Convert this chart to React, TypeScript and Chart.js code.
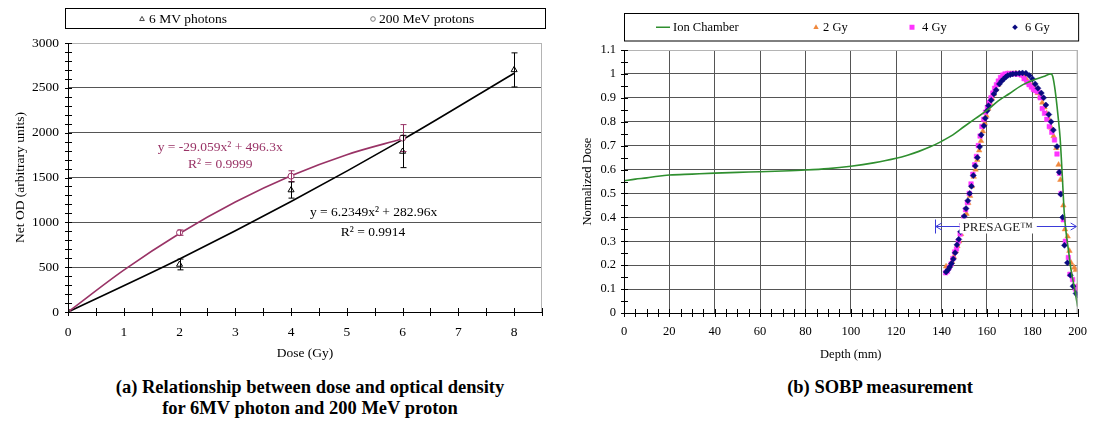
import React, { useEffect, useRef } from 'react';
import { Chart, registerables } from 'chart.js';

Chart.register(...registerables);

const FONT = '"Liberation Serif", "Times New Roman", serif';
const MAROON = '#993366';
const GREEN = '#2f8f2f';
const ORANGE = '#f0883c';
const MAGENTA = '#ff33ff';
const NAVY = '#0a0a80';
const GRID = '#555555';
const BORDER = '#b4b4b4';

// ---------- (a) dose vs optical density ----------
const photonDose = [0, 2, 4, 6, 8];
const photonOD = [0, 530, 1360, 1790, 2700];
const photonErr = [0, 60, 90, 180, 190];
const protonDose = [0, 2, 4, 6];
const protonOD = [0, 885, 1515, 1940];
const protonErr = [0, 30, 60, 150];
const photonFitDose = [0, 2, 4, 6, 8];
const photonFitOD = [0, 591, 1232, 1922, 2663];
const protonFitDose = [0, 1, 2, 3, 4, 5, 6];
const protonFitOD = [0, 467, 876, 1227, 1520, 1755, 1932];
const leftLabels = [
  { text: 'y = -29.059x² + 496.3x', x: 2.73, y: 1833, color: MAROON },
  { text: 'R² = 0.9999', x: 2.73, y: 1640, color: MAROON },
  { text: 'y = 6.2349x² + 282.96x', x: 5.48, y: 1107, color: '#000' },
  { text: 'R² = 0.9914', x: 5.47, y: 887, color: '#000' },
];

// ---------- (b) SOBP ----------
const icDepth = [0, 5, 10, 15, 20, 30, 40, 50, 60, 70, 80, 90, 100, 110, 120, 125, 130, 135, 140, 145, 150, 155, 160, 165, 170, 175, 180, 185, 188.3, 189, 189.8, 190.5, 191.3, 192.3, 193.2, 194.1, 195, 196, 197.1, 198.5, 200];
const icDose = [0.553, 0.560, 0.565, 0.572, 0.577, 0.581, 0.585, 0.588, 0.591, 0.594, 0.598, 0.604, 0.614, 0.628, 0.647, 0.660, 0.676, 0.695, 0.718, 0.745, 0.780, 0.814, 0.847, 0.887, 0.918, 0.950, 0.972, 0.989, 1.000, 0.990, 0.950, 0.900, 0.830, 0.730, 0.580, 0.420, 0.330, 0.260, 0.180, 0.110, 0.027];

const gy2Depth = [142.0, 142.9, 143.8, 144.6, 145.4, 146.2, 147.0, 147.8, 148.6, 149.4, 150.2, 151.0, 151.8, 152.6, 153.4, 154.2, 155.0, 155.8, 156.6, 157.4, 158.2, 159.0, 159.8, 160.6, 161.4, 162.2, 163.0, 164.0, 165.0, 166.0, 167.0, 168.0, 169.2, 170.4, 171.6, 172.8, 174.0, 175.2, 176.4, 177.6, 178.8, 180.0, 181.2, 182.4, 183.4, 184.4, 185.4, 186.4, 187.4, 188.4, 189.4, 190.6, 191.6, 192.4, 193.7, 194.4, 195.6, 196.4, 197.1, 198.5, 199.2, 199.7, 200.0];
const gy2Dose = [0.195, 0.190, 0.200, 0.215, 0.235, 0.258, 0.280, 0.300, 0.330, 0.360, 0.385, 0.415, 0.460, 0.490, 0.530, 0.570, 0.600, 0.640, 0.680, 0.720, 0.760, 0.795, 0.825, 0.855, 0.878, 0.898, 0.915, 0.935, 0.955, 0.972, 0.985, 0.995, 1.000, 1.000, 1.000, 1.002, 1.000, 0.998, 0.990, 0.975, 0.960, 0.950, 0.935, 0.920, 0.905, 0.880, 0.860, 0.835, 0.810, 0.775, 0.740, 0.690, 0.620, 0.557, 0.450, 0.350, 0.320, 0.260, 0.210, 0.190, 0.180, 0.110, 0.100];

const gy4Depth = [141.8, 142.6, 143.4, 144.2, 145.0, 145.8, 146.6, 147.4, 148.2, 149.0, 149.8, 150.6, 151.4, 152.2, 153.0, 153.8, 154.6, 155.4, 156.2, 157.0, 157.8, 158.6, 159.4, 160.2, 161.0, 161.8, 162.6, 163.4, 164.2, 165.0, 166.0, 167.0, 168.0, 169.2, 170.4, 171.6, 172.8, 174.0, 175.2, 176.4, 177.6, 178.6, 179.6, 180.5, 181.5, 182.5, 183.5, 184.4, 185.4, 186.4, 187.5, 188.6, 189.8, 190.9, 192.0, 192.7, 193.7, 194.6, 195.9, 196.6, 197.8, 199.0, 199.7];
const gy4Dose = [0.168, 0.175, 0.190, 0.205, 0.228, 0.255, 0.268, 0.300, 0.330, 0.365, 0.400, 0.432, 0.462, 0.500, 0.540, 0.580, 0.620, 0.655, 0.700, 0.740, 0.780, 0.810, 0.840, 0.860, 0.880, 0.900, 0.920, 0.940, 0.955, 0.970, 0.985, 0.995, 1.000, 1.002, 1.000, 1.002, 1.000, 1.000, 0.995, 0.980, 0.965, 0.955, 0.945, 0.935, 0.930, 0.925, 0.900, 0.855, 0.835, 0.810, 0.780, 0.756, 0.724, 0.665, 0.585, 0.500, 0.390, 0.300, 0.232, 0.162, 0.140, 0.100, 0.110];

const gy6Depth = [142.0, 142.8, 143.6, 144.4, 145.2, 146.0, 146.8, 147.6, 148.4, 149.2, 150.0, 150.8, 151.6, 152.4, 153.2, 154.0, 154.9, 155.8, 156.8, 157.5, 158.7, 159.3, 160.1, 160.7, 161.9, 163.1, 164.1, 165.5, 166.5, 167.4, 168.3, 169.2, 170.3, 171.4, 172.8, 174.3, 175.7, 177.2, 178.7, 180.1, 181.3, 182.5, 184.0, 185.0, 186.0, 187.3, 188.3, 189.3, 190.9, 191.9, 192.6, 193.4, 194.2, 195.5, 196.8, 198.0, 199.3, 200.0];
const gy6Dose = [0.172, 0.180, 0.192, 0.207, 0.226, 0.252, 0.285, 0.308, 0.340, 0.372, 0.405, 0.437, 0.470, 0.500, 0.530, 0.575, 0.615, 0.650, 0.695, 0.745, 0.783, 0.815, 0.846, 0.867, 0.890, 0.916, 0.933, 0.958, 0.970, 0.979, 0.987, 0.993, 0.997, 1.000, 1.001, 1.003, 1.004, 1.003, 0.993, 0.979, 0.958, 0.940, 0.920, 0.900, 0.870, 0.830, 0.800, 0.765, 0.696, 0.589, 0.497, 0.400, 0.283, 0.210, 0.158, 0.112, 0.082, 0.075];

const presage = { text: 'PRESAGE™', from: 137, to: 200, leftEnd: 148, rightStart: 182, textAt: 164.8, level: 0.364 };

const pts = (xs: number[], ys: number[]) => xs.map((x, i) => ({ x, y: ys[i] }));

function marker(ctx: CanvasRenderingContext2D, style: string, x: number, y: number, r: number, fill: string, stroke: string) {
  ctx.save();
  ctx.beginPath();
  if (style === 'triangle') {
    ctx.moveTo(x, y - r);
    ctx.lineTo(x + r * 0.9, y + r * 0.6);
    ctx.lineTo(x - r * 0.9, y + r * 0.6);
    ctx.closePath();
  } else if (style === 'circle') {
    ctx.arc(x, y, r, 0, Math.PI * 2);
  } else if (style === 'rect') {
    ctx.rect(x - r, y - r, r * 2, r * 2);
  } else if (style === 'rectRot') {
    ctx.moveTo(x, y - r);
    ctx.lineTo(x + r, y);
    ctx.lineTo(x, y + r);
    ctx.lineTo(x - r, y);
    ctx.closePath();
  }
  if (fill) { ctx.fillStyle = fill; ctx.fill(); }
  if (stroke) { ctx.strokeStyle = stroke; ctx.lineWidth = 1; ctx.stroke(); }
  ctx.restore();
}

function frame(chart: any, xMinor: number, yMinor: number) {
  const { ctx, chartArea: a, scales } = chart;
  const x = scales.x, y = scales.y;
  ctx.save();
  ctx.strokeStyle = BORDER;
  ctx.lineWidth = 1;
  ctx.beginPath();
  ctx.moveTo(a.left, a.top + 0.5);
  ctx.lineTo(a.right - 0.5, a.top + 0.5);
  ctx.lineTo(a.right - 0.5, a.bottom);
  ctx.stroke();
  ctx.strokeStyle = '#000';
  ctx.beginPath();
  ctx.moveTo(a.left + 0.5, a.top);
  ctx.lineTo(a.left + 0.5, a.bottom + 0.5);
  ctx.lineTo(a.right, a.bottom + 0.5);
  for (let v = x.min; v <= x.max + 1e-9; v += xMinor) {
    const px = Math.round(x.getPixelForValue(v)) + 0.5;
    ctx.moveTo(px, a.bottom - 4);
    ctx.lineTo(px, a.bottom + 4);
  }
  for (let v = y.min; v <= y.max + 1e-9; v += yMinor) {
    const py = Math.round(y.getPixelForValue(v)) + 0.5;
    ctx.moveTo(a.left - 3, py);
    ctx.lineTo(a.left + 4, py);
  }
  ctx.stroke();
  ctx.restore();
}

const leftPlugin = {
  id: 'leftDecor',
  afterDatasetsDraw(chart: any) {
    const { ctx, scales: { x, y } } = chart;
    const bars = (xs: number[], ys: number[], es: number[], color: string) => {
      ctx.save();
      ctx.strokeStyle = color;
      ctx.lineWidth = 1;
      ctx.beginPath();
      xs.forEach((xv, i) => {
        if (!es[i]) return;
        const px = Math.round(x.getPixelForValue(xv)) + 0.5;
        const top = y.getPixelForValue(ys[i] + es[i]);
        const bot = y.getPixelForValue(ys[i] - es[i]);
        ctx.moveTo(px, top); ctx.lineTo(px, bot);
        ctx.moveTo(px - 3, top); ctx.lineTo(px + 3, top);
        ctx.moveTo(px - 3, bot); ctx.lineTo(px + 3, bot);
      });
      ctx.stroke();
      ctx.restore();
    };
    bars(protonDose, protonOD, protonErr, MAROON);
    bars(photonDose, photonOD, photonErr, '#000');
  },
  afterDraw(chart: any) {
    const { ctx, chartArea: a, scales: { x, y } } = chart;
    frame(chart, 0.5, 100);
    // legend
    ctx.save();
    const bl = a.left - 3, br = a.right + 3, bt = 8.5, bb = 28.5;
    ctx.strokeStyle = '#000';
    ctx.lineWidth = 1;
    ctx.strokeRect(bl + 0.5, bt, br - bl, bb - bt);
    const ly = (bt + bb) / 2 + 0.5;
    ctx.font = `13.5px ${FONT}`;
    ctx.fillStyle = '#000';
    ctx.textBaseline = 'middle';
    marker(ctx, 'triangle', bl + 77, ly, 2.6, '#fff', '#444');
    ctx.fillText('6 MV photons', bl + 84, ly);
    marker(ctx, 'circle', bl + 308, ly, 2.3, '#fff', '#777');
    ctx.fillText('200 MeV protons', bl + 314, ly);
    // trendline labels
    ctx.textAlign = 'center';
    leftLabels.forEach((l) => {
      ctx.fillStyle = l.color;
      ctx.fillText(l.text, x.getPixelForValue(l.x), y.getPixelForValue(l.y));
    });
    ctx.restore();
  },
};

const rightPlugin = {
  id: 'rightDecor',
  afterDatasetsDraw(chart: any) {
    const { ctx, scales: { x, y } } = chart;
    ctx.save();
    const py = Math.round(y.getPixelForValue(presage.level)) + 0.5;
    ctx.font = `13px ${FONT}`;
    const tw = ctx.measureText(presage.text).width;
    const tx = x.getPixelForValue(presage.textAt);
    ctx.fillStyle = '#fff';
    ctx.fillRect(tx - tw / 2 - 3, py - 8, tw + 6, 15);
    ctx.fillStyle = '#222';
    ctx.textAlign = 'center';
    ctx.textBaseline = 'middle';
    ctx.fillText(presage.text, tx, py + 1);
    const x0 = x.getPixelForValue(presage.from);
    const x1 = x.getPixelForValue(presage.leftEnd);
    const x2 = x.getPixelForValue(presage.rightStart);
    const x3 = x.getPixelForValue(presage.to);
    ctx.strokeStyle = '#3a3ad8';
    ctx.lineWidth = 1;
    ctx.beginPath();
    ctx.moveTo(Math.round(x0) + 0.5, py - 7); ctx.lineTo(Math.round(x0) + 0.5, py + 7);
    ctx.moveTo(x0 + 1, py); ctx.lineTo(x1, py);
    ctx.moveTo(x0 + 7, py - 3.5); ctx.lineTo(x0 + 1, py); ctx.lineTo(x0 + 7, py + 3.5);
    ctx.moveTo(x2, py); ctx.lineTo(x3 - 1, py);
    ctx.moveTo(x3 - 7, py - 3.5); ctx.lineTo(x3 - 1, py); ctx.lineTo(x3 - 7, py + 3.5);
    ctx.stroke();
    ctx.restore();
  },
  afterDraw(chart: any) {
    const { ctx, chartArea: a } = chart;
    frame(chart, 5, 0.05);
    ctx.save();
    const bl = a.left, br = a.right + 0.5, bt = 13.5, bb = 41;
    ctx.strokeStyle = '#000';
    ctx.lineWidth = 1;
    ctx.strokeRect(bl + 0.5, bt, br - bl, bb - bt);
    const ly = (bt + bb) / 2;
    ctx.font = `12.5px ${FONT}`;
    ctx.fillStyle = '#000';
    ctx.textBaseline = 'middle';
    ctx.strokeStyle = GREEN;
    ctx.lineWidth = 1.5;
    ctx.beginPath();
    ctx.moveTo(bl + 32, ly); ctx.lineTo(bl + 46, ly);
    ctx.stroke();
    ctx.fillText('Ion Chamber', bl + 49, ly);
    marker(ctx, 'triangle', bl + 192, ly, 3, ORANGE, '');
    ctx.fillText('2 Gy', bl + 199, ly);
    marker(ctx, 'rect', bl + 288, ly, 2.5, MAGENTA, '');
    ctx.fillText('4 Gy', bl + 298, ly);
    marker(ctx, 'rectRot', bl + 391, ly, 2.8, NAVY, '');
    ctx.fillText('6 Gy', bl + 401, ly);
    ctx.restore();
  },
};

const tickFont = (size: number) => ({ family: FONT, size });

function leftConfig(): any {
  return {
    type: 'scatter',
    data: {
      datasets: [
        { data: pts(photonDose, photonOD), pointStyle: 'triangle', pointRadius: 3.5, backgroundColor: '#fff', borderColor: '#000', borderWidth: 1, order: 0 },
        { data: pts(protonDose, protonOD), pointStyle: 'circle', pointRadius: 3, backgroundColor: '#fff', borderColor: MAROON, borderWidth: 1, order: 1 },
        { data: pts(photonFitDose, photonFitOD), showLine: true, pointRadius: 0, borderColor: '#000', borderWidth: 1.6, cubicInterpolationMode: 'monotone', order: 3 },
        { data: pts(protonFitDose, protonFitOD), showLine: true, pointRadius: 0, borderColor: MAROON, borderWidth: 1.6, cubicInterpolationMode: 'monotone', order: 2 },
      ],
    },
    options: {
      animation: false,
      responsive: false,
      maintainAspectRatio: false,
      layout: { padding: { top: 43, right: 18, bottom: 0, left: 0 } },
      plugins: { legend: { display: false }, tooltip: { enabled: false } },
      scales: {
        x: {
          type: 'linear', min: 0, max: 8.5,
          afterFit: (s: any) => { s.height = 58; },
          ticks: { stepSize: 1, includeBounds: false, color: '#000', font: tickFont(13.5), padding: 12, maxRotation: 0 },
          grid: { display: false, drawTicks: false },
          border: { display: false },
          title: { display: true, text: 'Dose (Gy)', color: '#000', font: tickFont(13.5), padding: { top: 0, bottom: 8 } },
        },
        y: {
          type: 'linear', min: 0, max: 3000,
          afterFit: (s: any) => { s.width = 68; },
          ticks: { stepSize: 500, color: '#000', font: tickFont(13.5), padding: 9, callback: (v: number) => String(v) },
          grid: { color: (c: any) => (c.tick && c.tick.value === 3000 ? BORDER : GRID), drawTicks: false },
          border: { display: false },
          title: { display: true, text: 'Net OD (arbitrary units)', color: '#000', font: tickFont(13.5), padding: { top: 12, bottom: 0 } },
        },
      },
    },
    plugins: [leftPlugin],
  };
}

function rightConfig(): any {
  return {
    type: 'scatter',
    data: {
      datasets: [
        { data: pts(icDepth, icDose), showLine: true, pointRadius: 0, borderColor: GREEN, borderWidth: 1.6, cubicInterpolationMode: 'monotone', order: 0 },
        { data: pts(gy6Depth, gy6Dose), pointStyle: 'rectRot', pointRadius: 3, backgroundColor: NAVY, borderColor: NAVY, borderWidth: 0.5, order: 1 },
        { data: pts(gy4Depth, gy4Dose), pointStyle: 'rect', pointRadius: 3.2, backgroundColor: MAGENTA, borderColor: MAGENTA, borderWidth: 0.5, order: 2 },
        { data: pts(gy2Depth, gy2Dose), pointStyle: 'triangle', pointRadius: 3.2, backgroundColor: ORANGE, borderColor: ORANGE, borderWidth: 0.5, order: 3 },
      ],
    },
    options: {
      animation: false,
      responsive: false,
      maintainAspectRatio: false,
      layout: { padding: { top: 50, right: 18, bottom: 0, left: 0 } },
      plugins: { legend: { display: false }, tooltip: { enabled: false } },
      scales: {
        x: {
          type: 'linear', min: 0, max: 200,
          afterFit: (s: any) => { s.height = 57; },
          ticks: { stepSize: 20, includeBounds: false, color: '#000', font: tickFont(12.5), padding: 11, maxRotation: 0 },
          grid: { color: (c: any) => (c.tick && c.tick.value === 200 ? BORDER : GRID), drawTicks: false },
          border: { display: false },
          title: { display: true, text: 'Depth (mm)', color: '#000', font: tickFont(12.5), padding: { top: 0, bottom: 8 } },
        },
        y: {
          type: 'linear', min: 0, max: 1.1,
          afterFit: (s: any) => { s.width = 64; },
          ticks: { stepSize: 0.1, color: '#000', font: tickFont(12.5), padding: 8, callback: (v: number) => String(Number(v.toFixed(2))) },
          grid: { color: (c: any) => (c.tick && Math.abs(c.tick.value - 1.1) < 1e-6 ? BORDER : GRID), drawTicks: false },
          border: { display: false },
          title: { display: true, text: 'Normalized Dose', color: '#000', font: tickFont(12.5), padding: { top: 20, bottom: 0 } },
        },
      },
    },
    plugins: [rightPlugin],
  };
}

export default function App() {
  const leftRef = useRef<HTMLCanvasElement>(null);
  const rightRef = useRef<HTMLCanvasElement>(null);
  useEffect(() => {
    const c1 = new Chart(leftRef.current as HTMLCanvasElement, leftConfig());
    const c2 = new Chart(rightRef.current as HTMLCanvasElement, rightConfig());
    return () => { c1.destroy(); c2.destroy(); };
  }, []);
  const cap: React.CSSProperties = { position: 'absolute', top: 377, textAlign: 'center', fontFamily: FONT, fontWeight: 'bold', fontSize: '18.5px', lineHeight: '21px', color: '#000', whiteSpace: 'nowrap' };
  return (
    <div style={{ position: 'fixed', left: 0, top: 0, width: 1098, height: 431, background: '#fff', overflow: 'hidden' }}>
      <canvas ref={leftRef} width={560} height={370} style={{ position: 'absolute', left: 0, top: 0, width: 560, height: 370 }} />
      <canvas ref={rightRef} width={538} height={370} style={{ position: 'absolute', left: 560, top: 0, width: 538, height: 370 }} />
      <div style={{ ...cap, left: 0, width: 620 }}>
        (a) Relationship between dose and optical density<br />for 6MV photon and 200 MeV proton
      </div>
      <div style={{ ...cap, left: 700, width: 360 }}>(b) SOBP measurement</div>
    </div>
  );
}
